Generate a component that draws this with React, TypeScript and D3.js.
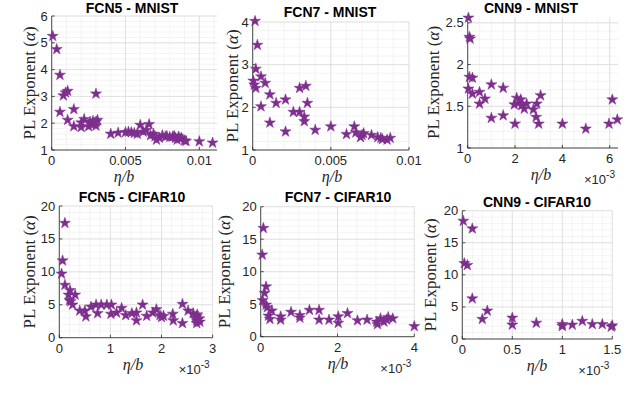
import React from 'react';
import * as d3 from 'd3';

// FCN5 - MNIST
const fcn5MnistX = [0.00007, 0.00034, 0.00056, 0.00056, 0.00079, 0.00094, 0.00108, 0.00108, 0.0015, 0.0015, 0.002, 0.002, 0.0022, 0.0025, 0.0026, 0.0027, 0.0028, 0.0029, 0.003, 0.003, 0.0031, 0.003,
  0.004, 0.0045, 0.005, 0.0052, 0.0054, 0.0056, 0.0058, 0.006, 0.0062, 0.0064, 0.0066, 0.0067, 0.0069, 0.007, 0.0071, 0.0073, 0.0075, 0.0077, 0.0078, 0.008, 0.0082, 0.0083, 0.0084, 0.0085, 0.0086, 0.0087, 0.0088, 0.009, 0.0091, 0.01, 0.0109];
const fcn5MnistY = [5.25, 4.76, 3.8, 2.42, 3.03, 3.14, 3.2, 2.12, 2.52, 1.88, 2.02, 1.85, 2.15, 1.88, 2.05, 1.95, 2.08, 2.0, 3.1, 1.9, 2.12, 2.05,
  1.6, 1.64, 1.66, 1.68, 1.66, 1.63, 1.6, 1.93, 1.68, 1.74, 1.96, 1.55, 1.6, 1.5, 1.38, 1.45, 1.55, 1.5, 1.52, 1.48, 1.5, 1.52, 1.45, 1.38, 1.5, 1.42, 1.45, 1.35, 1.33, 1.32, 1.27];

// FCN7 - MNIST
const fcn7MnistX = [0.00015, 0.0003, 0.0002, 0.00004, 0.0001, 0.0002, 0.00053, 0.0008, 0.00053, 0.0011, 0.0011, 0.0015, 0.0021, 0.0021, 0.0026, 0.003, 0.0034, 0.0035, 0.003, 0.0033, 0.0033, 0.004, 0.005, 0.006, 0.0065, 0.0066, 0.0069, 0.007, 0.0071, 0.0076, 0.008, 0.0082, 0.0083, 0.0086, 0.0088];
const fcn7MnistY = [4.02, 3.46, 2.9, 2.62, 2.53, 2.45, 2.72, 2.57, 2.02, 2.3, 1.64, 2.1, 2.18, 1.43, 1.89, 2.45, 2.5, 2.1, 1.89, 1.78, 1.67, 1.47, 1.55, 1.37, 1.55, 1.41, 1.3, 1.35, 1.39, 1.35, 1.3, 1.28, 1.25, 1.24, 1.28];

// CNN9 - MNIST
const cnn9MnistX = [0.03e-3, 0.07e-3, 0.1e-3, 0.07e-3, 0.2e-3, 0.03e-3, 0.2e-3, 0.5e-3, 0.5e-3, 0.73e-3, 1.0e-3, 1.0e-3, 1.5e-3, 1.5e-3, 2.0e-3, 1.97e-3, 2.07e-3, 2.14e-3, 2.24e-3, 2.28e-3, 2.39e-3, 2.49e-3, 2.77e-3, 2.89e-3, 2.92e-3, 3.0e-3, 3.08e-3, 4.0e-3, 4.99e-3, 5.97e-3, 6.11e-3, 6.32e-3];
const cnn9MnistY = [2.56, 2.33, 2.31, 1.85, 1.84, 1.71, 1.65, 1.67, 1.53, 1.59, 1.76, 1.36, 1.72, 1.39, 1.29, 1.52, 1.6, 1.54, 1.58, 1.51, 1.47, 1.53, 1.46, 1.37, 1.53, 1.29, 1.63, 1.29, 1.23, 1.29, 1.58, 1.34];

// FCN5 - CIFAR10
const fcn5CifarX = [0.11e-3, 0.065e-3, 0.045e-3, 0.11e-3, 0.18e-3, 0.21e-3, 0.31e-3, 0.2e-3, 0.22e-3, 0.26e-3, 0.4e-3, 0.5e-3, 0.52e-3, 0.62e-3, 0.72e-3, 0.75e-3, 0.82e-3, 0.93e-3, 1.02e-3, 1.01e-3, 1.12e-3, 1.22e-3, 1.3e-3, 1.42e-3, 1.51e-3, 1.51e-3, 1.63e-3, 1.71e-3, 1.83e-3, 1.9e-3, 1.97e-3, 2.0e-3, 2.04e-3, 2.22e-3, 2.23e-3, 2.41e-3, 2.41e-3, 2.52e-3, 2.62e-3, 2.69e-3, 2.69e-3, 2.72e-3, 2.69e-3, 2.75e-3, 2.74e-3, 2.7e-3, 2.66e-3];
const fcn5CifarY = [17.4, 11.7, 9.7, 8.0, 6.5, 7.2, 6.5, 5.7, 5.5, 5.0, 4.1, 4.1, 3.2, 4.7, 5.0, 3.7, 5.0, 5.0, 5.0, 3.6, 3.8, 4.5, 3.4, 3.7, 3.8, 2.6, 5.0, 3.3, 3.8, 4.3, 3.4, 3.1, 3.3, 3.6, 2.6, 5.1, 2.2, 4.1, 3.7, 3.2, 2.6, 2.8, 2.2, 2.4, 2.9, 3.5, 3.0];

// FCN7 - CIFAR10
const fcn7CifarX = [0.07e-3, 0.04e-3, 0.14e-3, 0.1e-3, 0.05e-3, 0.14e-3, 0.17e-3, 0.2e-3, 0.24e-3, 0.29e-3, 0.52e-3, 0.52e-3, 0.79e-3, 1.02e-3, 1.02e-3, 1.27e-3, 1.52e-3, 1.52e-3, 1.78e-3, 2.02e-3, 2.02e-3, 2.26e-3, 2.52e-3, 2.77e-3, 3.02e-3, 3.04e-3, 3.12e-3, 3.21e-3, 3.28e-3, 3.32e-3, 3.44e-3, 4.0e-3];
const fcn7CifarY = [16.7, 12.6, 7.7, 6.7, 5.6, 4.9, 4.5, 3.2, 2.7, 4.0, 3.1, 2.6, 3.8, 3.3, 2.9, 4.1, 4.1, 2.6, 2.6, 3.1, 2.1, 3.6, 2.5, 2.6, 2.3, 1.9, 2.8, 2.3, 2.6, 3.0, 2.8, 1.6];

// CNN9 - CIFAR10
const cnn9CifarX = [0.01e-3, 0.1e-3, 0.02e-3, 0.05e-3, 0.1e-3, 0.2e-3, 0.25e-3, 0.5e-3, 0.5e-3, 0.74e-3, 1.0e-3, 1.0e-3, 1.1e-3, 1.2e-3, 1.3e-3, 1.4e-3, 1.49e-3, 1.5e-3];
const cnn9CifarY = [18.4, 17.2, 11.8, 11.5, 6.3, 3.1, 4.4, 3.3, 2.2, 2.5, 2.3, 2.0, 2.2, 2.8, 2.3, 2.3, 1.9, 2.1];

const titles = ['FCN5 - MNIST', 'FCN7 - MNIST', 'CNN9 - MNIST', 'FCN5 - CIFAR10', 'FCN7 - CIFAR10', 'CNN9 - CIFAR10'];
const mnistXTicks = [0, 0.005, 0.01];
const mnistXTickLabels = ['0', '0.005', '0.01'];
const cnn9MnistXTicks = [0, 2e-3, 4e-3, 6e-3];
const cnn9MnistXTickLabels = ['0', '2', '4', '6'];
const fcn5CifarXTicks = [0, 1e-3, 2e-3, 3e-3];
const fcn5CifarXTickLabels = ['0', '1', '2', '3'];
const fcn7CifarXTicks = [0, 2e-3, 4e-3];
const fcn7CifarXTickLabels = ['0', '2', '4'];
const cnn9CifarXTicks = [0, 0.5e-3, 1e-3, 1.5e-3];
const cnn9CifarXTickLabels = ['0', '0.5', '1', '1.5'];
const fcn5MnistYTicks = [1, 2, 3, 4, 5, 6];
const fcn7MnistYTicks = [1, 2, 3, 4];
const cnn9MnistYTicks = [1, 1.5, 2, 2.5];
const cifarYTicks = [0, 5, 10, 15, 20];

const PURPLE = '#7E2F8E';
const AX = '#262626';
const SANS = '"Liberation Sans", Arial, Helvetica, sans-serif';
const SERIF = '"Liberation Serif", "Times New Roman", serif';

const panels = [
  { title: titles[0], xs: fcn5MnistX, ys: fcn5MnistY, xDomain: [0, 0.0112], yDomain: [1, 6], xTicks: mnistXTicks, xLabels: mnistXTickLabels, yTicks: fcn5MnistYTicks, xMinor: 0.001, yMinor: 0.2, exp: false,
    left: 51.7, right: 217, top: 16, bottom: 150, titleX: 132, titleY: 13, ylabX: 35, xlabX: 124 },
  { title: titles[1], xs: fcn7MnistX, ys: fcn7MnistY, xDomain: [0, 0.01], yDomain: [1, 4], xTicks: mnistXTicks, xLabels: mnistXTickLabels, yTicks: fcn7MnistYTicks, xMinor: 0.001, yMinor: 0.2, exp: false,
    left: 252.7, right: 409, top: 22, bottom: 150, titleX: 330, titleY: 17, ylabX: 238, xlabX: 332 },
  { title: titles[2], xs: cnn9MnistX, ys: cnn9MnistY, xDomain: [0, 6.35e-3], yDomain: [1, 2.57], xTicks: cnn9MnistXTicks, xLabels: cnn9MnistXTickLabels, yTicks: cnn9MnistYTicks, xMinor: 0.5e-3, yMinor: 0.1, exp: true,
    left: 467.7, right: 618, top: 17, bottom: 148, titleX: 531, titleY: 13, ylabX: 439, xlabX: 541 },
  { title: titles[3], xs: fcn5CifarX, ys: fcn5CifarY, xDomain: [0, 3e-3], yDomain: [0, 20], xTicks: fcn5CifarXTicks, xLabels: fcn5CifarXTickLabels, yTicks: cifarYTicks, xMinor: 0.2e-3, yMinor: 1, exp: true,
    left: 59.3, right: 212.6, top: 206, bottom: 337.7, titleX: 132, titleY: 202, ylabX: 35, xlabX: 133 },
  { title: titles[4], xs: fcn7CifarX, ys: fcn7CifarY, xDomain: [0, 4e-3], yDomain: [0, 20], xTicks: fcn7CifarXTicks, xLabels: fcn7CifarXTickLabels, yTicks: cifarYTicks, xMinor: 0.5e-3, yMinor: 1, exp: true,
    left: 260.7, right: 414.3, top: 206.7, bottom: 336.7, titleX: 338, titleY: 202, ylabX: 230, xlabX: 338 },
  { title: titles[5], xs: cnn9CifarX, ys: cnn9CifarY, xDomain: [0, 1.5e-3], yDomain: [0, 20], xTicks: cnn9CifarXTicks, xLabels: cnn9CifarXTickLabels, yTicks: cifarYTicks, xMinor: 0.1e-3, yMinor: 1, exp: true,
    left: 462.3, right: 612.3, top: 210.7, bottom: 339, titleX: 537, titleY: 207, ylabX: 436, xlabX: 537 },
];

const star = d3.symbol().type(d3.symbolStar).size(38)();

function Panel({ p }) {
  const x = d3.scaleLinear().domain(p.xDomain).range([p.left, p.right]);
  const y = d3.scaleLinear().domain(p.yDomain).range([p.bottom, p.top]);
  const eps = 1e-9;
  const xMinor = d3.range(p.xDomain[0], p.xDomain[1] + eps, p.xMinor);
  const yMinor = d3.range(p.yDomain[0], p.yDomain[1] + eps, p.yMinor);
  const midY = (p.top + p.bottom) / 2;
  return (
    <g>
      <rect x={p.left} y={p.top} width={p.right - p.left} height={p.bottom - p.top} fill="#fff" />
      {xMinor.map((v, i) => (
        <line key={'xm' + i} x1={x(v)} x2={x(v)} y1={p.top} y2={p.bottom} stroke="#ececec" strokeWidth={0.6} />
      ))}
      {yMinor.map((v, i) => (
        <line key={'ym' + i} x1={p.left} x2={p.right} y1={y(v)} y2={y(v)} stroke="#ececec" strokeWidth={0.6} />
      ))}
      {p.xTicks.map((v, i) => (
        <line key={'xg' + i} x1={x(v)} x2={x(v)} y1={p.top} y2={p.bottom} stroke="#dcdcdc" strokeWidth={0.8} />
      ))}
      {p.yTicks.map((v, i) => (
        <line key={'yg' + i} x1={p.left} x2={p.right} y1={y(v)} y2={y(v)} stroke="#dcdcdc" strokeWidth={0.8} />
      ))}
      <line x1={p.left} x2={p.right} y1={p.bottom} y2={p.bottom} stroke={AX} strokeWidth={0.8} />
      <line x1={p.left} x2={p.left} y1={p.top} y2={p.bottom} stroke={AX} strokeWidth={0.8} />
      {p.xTicks.map((v, i) => (
        <g key={'xt' + i}>
          <line x1={x(v)} x2={x(v)} y1={p.bottom} y2={p.bottom - 3} stroke={AX} strokeWidth={0.8} />
          <text x={x(v)} y={p.bottom + 15} textAnchor="middle" fontFamily={SANS} fontSize={13} fill={AX}>{p.xLabels[i]}</text>
        </g>
      ))}
      {p.yTicks.map((v, i) => (
        <g key={'yt' + i}>
          <line x1={p.left} x2={p.left + 3} y1={y(v)} y2={y(v)} stroke={AX} strokeWidth={0.8} />
          <text x={p.left - 4} y={y(v) + 4.5} textAnchor="end" fontFamily={SANS} fontSize={13} fill={AX}>{String(v)}</text>
        </g>
      ))}
      {p.xs.map((v, i) => (
        <path key={'pt' + i} d={star} transform={`translate(${x(v)},${y(p.ys[i])})`} fill={PURPLE} stroke={PURPLE} strokeWidth={0.5} />
      ))}
      <text x={p.titleX} y={p.titleY} textAnchor="middle" fontFamily={SANS} fontWeight="bold" fontSize={14} fill="#000">{p.title}</text>
      <text transform={`translate(${p.ylabX},${midY}) rotate(-90)`} textAnchor="middle" fontFamily={SERIF} fontSize={17} fill={AX}>
        PL Exponent (<tspan fontStyle="italic">α</tspan>)
      </text>
      <text x={p.xlabX} y={p.bottom + 32} textAnchor="middle" fontFamily={SERIF} fontSize={16} fontStyle="italic" fill={AX}>
        η/b
      </text>
      {p.exp && (
        <text x={p.right - 3} y={p.bottom + 36} textAnchor="end" fontFamily={SANS} fontSize={13} fill={AX}>
          ×10<tspan fontSize={10} dy={-6}>-3</tspan>
        </text>
      )}
    </g>
  );
}

export default function App() {
  return (
    <svg width={640} height={398} style={{ position: 'absolute', left: 0, top: 0, background: '#fff' }}>
      <rect width={640} height={398} fill="#fff" />
      {panels.map((p, i) => <Panel key={i} p={p} />)}
      <text x={0} y={410} fontFamily={SERIF} fontSize={17} fill="#333">
        Figure 4: Trend of PL exponent α with respect to the ratio of learning rate to batch size (η/b)
      </text>
    </svg>
  );
}
